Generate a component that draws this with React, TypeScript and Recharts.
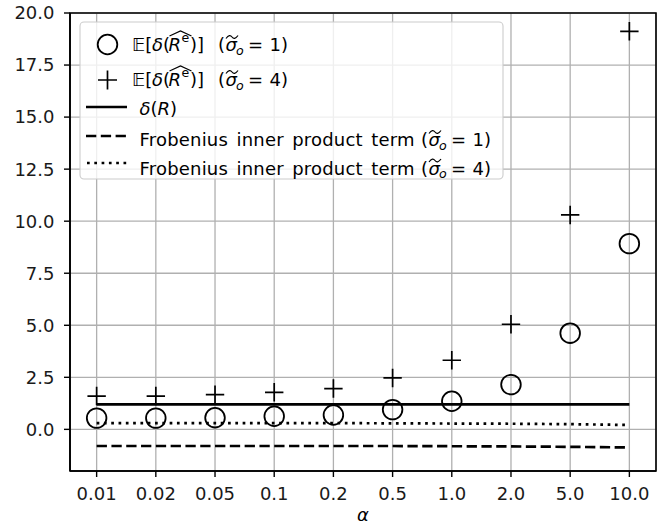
import { ComposedChart, Line, XAxis, YAxis, CartesianGrid, ReferenceArea, Legend, Label } from 'recharts';

// alpha values on the x axis (evenly spaced categories)
const ALPHAS = ['0.01', '0.02', '0.05', '0.1', '0.2', '0.5', '1.0', '2.0', '5.0', '10.0'];

// E[delta(R^e)] for sigma_o = 1 and sigma_o = 4
const EST_S1 = [0.54, 0.54, 0.56, 0.63, 0.69, 0.95, 1.35, 2.15, 4.62, 8.92];
const EST_S4 = [1.6, 1.6, 1.67, 1.78, 1.96, 2.47, 3.32, 5.05, 10.3, 19.12];

// delta(R) and the Frobenius inner product terms
const DELTA_R = [1.2, 1.2, 1.2, 1.2, 1.2, 1.2, 1.2, 1.2, 1.2, 1.2];
const FROB_S1 = [-0.8, -0.8, -0.8, -0.8, -0.8, -0.8, -0.81, -0.82, -0.84, -0.87];
const FROB_S4 = [0.3, 0.3, 0.3, 0.3, 0.3, 0.29, 0.28, 0.27, 0.25, 0.21];

const Y_TICKS = [0, 2.5, 5, 7.5, 10, 12.5, 15, 17.5, 20];
const X_TICKS = ALPHAS.map((_, i) => i);

const data = ALPHAS.map((a, i) => ({
  i,
  alpha: a,
  est1: EST_S1[i],
  est4: EST_S4[i],
  delta: DELTA_R[i],
  frob1: FROB_S1[i],
  frob4: FROB_S4[i],
}));

const FONT = '"DejaVu Sans", sans-serif';
const GRID = '#b0b0b0';

const CircleDot = (props: any) => {
  const { cx, cy, index } = props;
  return <circle key={`c-${index}`} cx={cx} cy={cy} r={9.8} fill="none" stroke="#000" strokeWidth={1.8} />;
};

const PlusDot = (props: any) => {
  const { cx, cy, index } = props;
  const s = 9.2;
  return (
    <path
      key={`p-${index}`}
      d={`M${cx - s},${cy}H${cx + s}M${cx},${cy - s}V${cy + s}`}
      stroke="#000"
      strokeWidth={1.7}
      fill="none"
    />
  );
};

// "(σ̃_o = n)" tail shared by all the sigma rows, "(" starts at x0
function SigmaTail({ x0, y, n }: { x0: number; y: number; n: string }) {
  return (
    <g>
      <text x={x0} y={y} fontSize={18} fill="#000">
        <tspan>(</tspan>
        <tspan x={x0 + 7.5} fontStyle="italic">σ</tspan>
        <tspan x={x0 + 18} dy={3.7} fontSize={12.6} fontStyle="italic">o</tspan>
        <tspan x={x0 + 30} dy={-3.7}>=</tspan>
        <tspan x={x0 + 51.5}>{n})</tspan>
      </text>
      <path
        d={`M${x0 + 8},${y - 12.5}C${x0 + 10.5},${y - 16} ${x0 + 12.5},${y - 16} ${x0 + 14},${y - 14}C${x0 + 15.5},${y - 12} ${x0 + 17.5},${y - 12} ${x0 + 20},${y - 15.5}`}
        stroke="#000"
        strokeWidth={1.2}
        fill="none"
      />
    </g>
  );
}

// first two legend rows: E[δ(R̂^e)] (σ̃_o = n)
function EstRow({ y, n }: { y: number; n: string }) {
  return (
    <g>
      <text x={132} y={y} fontSize={18} fill="#000">
        <tspan>𝔼[</tspan>
        <tspan x={152} fontStyle="italic">δ</tspan>
        <tspan>(</tspan>
        <tspan x={168.5} fontStyle="italic">R</tspan>
        <tspan x={181.5} dy={-9.5} fontSize={12.6}>e</tspan>
        <tspan x={190} dy={9.5}>)]</tspan>
      </text>
      <path d={`M169.5,${y - 15}L180.5,${y - 20}L191.5,${y - 15}`} stroke="#000" strokeWidth={1.2} fill="none" />
      <SigmaTail x0={218} y={y} n={n} />
    </g>
  );
}

function FrobRow({ y, n }: { y: number; n: string }) {
  return (
    <g>
      <text x={139.5} y={y} fontSize={18} fill="#000" wordSpacing={2.5} letterSpacing={0.2}>
        Frobenius inner product term
      </text>
      <SigmaTail x0={421} y={y} n={n} />
    </g>
  );
}

function LegendBox() {
  return (
    <svg width={663} height={527} style={{ fontFamily: FONT }}>
      <rect x={80} y={22} width={423} height={157} rx={4} fill="rgba(255,255,255,0.8)" stroke="#cccccc" strokeWidth={1.1} />
      <circle cx={107.5} cy={44.5} r={9.8} fill="none" stroke="#000" strokeWidth={1.8} />
      <path d="M98,80H117M107.5,70.5V89.5" stroke="#000" strokeWidth={1.7} />
      <line x1={86} x2={127} y1={107} y2={107} stroke="#000" strokeWidth={2.7} />
      <line x1={86} x2={127} y1={136} y2={136} stroke="#000" strokeWidth={2.7} strokeDasharray="10.3 4.5" />
      <line x1={87} x2={127} y1={163} y2={163} stroke="#000" strokeWidth={2.7} strokeDasharray="2.7 4.6" />
      <EstRow y={51} n="1" />
      <EstRow y={86} n="4" />
      <text x={139.5} y={114.5} fontSize={18} fill="#000">
        <tspan fontStyle="italic">δ</tspan>
        <tspan>(</tspan>
        <tspan fontStyle="italic">R</tspan>
        <tspan>)</tspan>
      </text>
      <FrobRow y={146} n="1" />
      <FrobRow y={174.5} n="4" />
    </svg>
  );
}

const AlphaLabel = (props: any) => {
  const { viewBox } = props;
  const cx = viewBox.x + viewBox.width / 2;
  return (
    <text x={cx} y={viewBox.y + 50} textAnchor="middle" fontSize={18} fontStyle="italic" fontFamily={FONT} fill="#000">
      α
    </text>
  );
};

export default function App() {
  return (
    <div style={{ position: 'absolute', left: 0, top: 0, width: 663, height: 527, background: '#fff', fontFamily: FONT }}>
      <ComposedChart width={663} height={527} data={data} margin={{ top: 13, right: 7, left: 0, bottom: 0 }}>
        <CartesianGrid stroke={GRID} strokeWidth={1.3} />
        <XAxis
          dataKey="i"
          type="number"
          domain={[-0.45, 9.45]}
          ticks={X_TICKS}
          interval={0}
          allowDataOverflow
          tickFormatter={(v: number) => ALPHAS[v]}
          height={56}
          tickSize={6}
          tickMargin={10}
          axisLine={{ stroke: '#000', strokeWidth: 1.6 }}
          tickLine={{ stroke: '#000', strokeWidth: 1.4 }}
          tick={{ fill: '#1a1a1a', fontSize: 18, fontFamily: FONT }}
        >
          <Label content={AlphaLabel} />
        </XAxis>
        <YAxis
          type="number"
          domain={[-2, 20]}
          ticks={Y_TICKS}
          interval={0}
          allowDataOverflow
          tickFormatter={(v: number) => v.toFixed(1)}
          width={70}
          tickSize={6}
          tickMargin={9.5}
          axisLine={{ stroke: '#000', strokeWidth: 1.6 }}
          tickLine={{ stroke: '#000', strokeWidth: 1.4 }}
          tick={{ fill: '#1a1a1a', fontSize: 18, fontFamily: FONT }}
        />
        <Line dataKey="delta" stroke="#000" strokeWidth={2.7} dot={false} activeDot={false} isAnimationActive={false} />
        <Line dataKey="frob1" stroke="#000" strokeWidth={2.7} strokeDasharray="10.3 4.5" dot={false} activeDot={false} isAnimationActive={false} />
        <Line dataKey="frob4" stroke="#000" strokeWidth={2.7} strokeDasharray="2.7 4.6" dot={false} activeDot={false} isAnimationActive={false} />
        <Line dataKey="est1" stroke="none" strokeWidth={0} dot={CircleDot} activeDot={false} isAnimationActive={false} />
        <Line dataKey="est4" stroke="none" strokeWidth={0} dot={PlusDot} activeDot={false} isAnimationActive={false} />
        <ReferenceArea x1={-0.45} x2={9.45} y1={-2} y2={20} fill="none" fillOpacity={0} stroke="#000" strokeWidth={1.6} ifOverflow="visible" />
        <Legend
          layout="vertical"
          align="center"
          verticalAlign="middle"
          wrapperStyle={{ position: 'absolute', left: 0, top: 0, width: 663, height: 527, pointerEvents: 'none' }}
          content={() => <LegendBox />}
        />
      </ComposedChart>
    </div>
  );
}
